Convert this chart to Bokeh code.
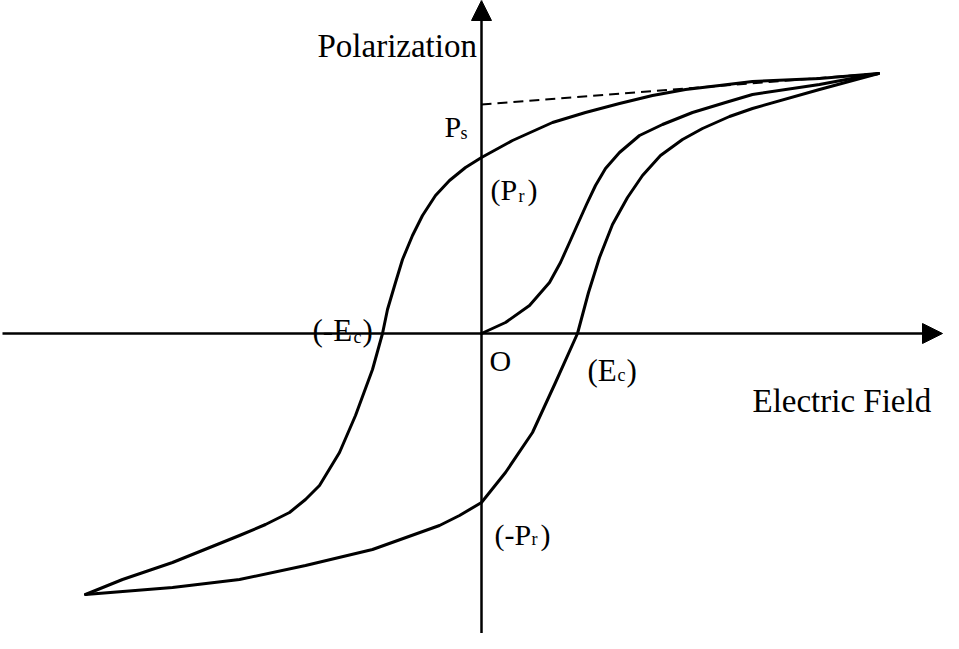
from bokeh.plotting import figure
from bokeh.models import Range1d, Arrow, NormalHead, Label
from bokeh.embed import file_html
from bokeh.resources import INLINE

# Upper (descending) branch: from +saturation tip through Pr and -Ec to -tip
upper_E = [3.97, 3.38, 2.71, 2.38, 2.04, 1.71, 1.38, 1.04, 0.71, 0.31, 0.00, -0.16, -0.32,
           -0.46, -0.59, -0.69, -0.79, -0.86, -0.94, -0.99, -1.09, -1.26, -1.42, -1.62,
           -1.76, -1.92, -2.16, -2.42, -3.09, -3.59, -3.96]
upper_P = [2.60, 2.55, 2.52, 2.48, 2.44, 2.38, 2.30, 2.21, 2.11, 1.93, 1.76, 1.66, 1.53,
           1.38, 1.18, 0.98, 0.74, 0.51, 0.24, 0.00, -0.36, -0.82, -1.19, -1.52,
           -1.66, -1.79, -1.91, -2.02, -2.29, -2.46, -2.61]

# Lower (ascending) branch: from -tip through -Pr and Ec to +tip
lower_E = [-3.96, -3.09, -2.42, -1.76, -1.09, -0.42, -0.22, 0.00, 0.24, 0.51, 0.74, 0.96,
           1.07, 1.18, 1.31, 1.46, 1.61, 1.79, 2.01, 2.21, 2.48, 2.71, 3.38, 3.97]
lower_P = [-2.61, -2.54, -2.46, -2.32, -2.16, -1.92, -1.82, -1.69, -1.39, -0.99, -0.49, 0.00,
           0.41, 0.76, 1.09, 1.36, 1.58, 1.78, 1.94, 2.05, 2.17, 2.25, 2.44, 2.60]

# Initial polarization curve from origin
init_E = [0.00, 0.24, 0.48, 0.68, 0.79, 0.88, 0.96, 1.05, 1.14, 1.24, 1.38, 1.58, 1.81,
          2.11, 2.44, 2.71, 3.38, 3.97]
init_P = [0.00, 0.11, 0.28, 0.51, 0.71, 0.91, 1.09, 1.29, 1.48, 1.65, 1.81, 1.98, 2.09,
          2.21, 2.31, 2.39, 2.49, 2.60]

# Saturation extrapolation (dashed)
sat_E = [0.00, 3.97]
sat_P = [2.29, 2.60]

FONT = "Liberation Serif"

p = figure(width=943, height=633, output_backend="svg", toolbar_location=None,
           x_range=Range1d(-4.81, 4.62), y_range=Range1d(-3.00, 3.33),
           min_border=0, outline_line_color=None, background_fill_color="white",
           border_fill_color="white")
p.xaxis.visible = False
p.yaxis.visible = False
p.grid.visible = False

# axes with arrowheads
p.add_layout(Arrow(end=NormalHead(size=20, fill_color="black", line_color="black", line_width=1),
                   x_start=-4.79, y_start=0, x_end=4.61, y_end=0,
                   line_color="black", line_width=2.5))
p.add_layout(Arrow(end=NormalHead(size=20, fill_color="black", line_color="black", line_width=1),
                   x_start=0, y_start=-3.2, x_end=0, y_end=3.33,
                   line_color="black", line_width=2.5))

# curves
for xs, ys in ((upper_E, upper_P), (lower_E, lower_P), (init_E, init_P)):
    p.line(xs, ys, line_color="black", line_width=3, line_join="round", line_cap="round")
p.line(sat_E, sat_P, line_color="black", line_width=2, line_dash="10 6")

def label(x, y, t, size):
    p.add_layout(Label(x=x, y=y, text=t, text_font=FONT, text_font_size=f"{size}px",
                       text_color="black", text_baseline="alphabetic", text_align="left"))

label(-1.64, 2.88, "Polarization", 33)
label(2.71, -0.67, "Electric Field", 33)

label(-0.37, 2.07, "P", 30)
label(-0.21, 2.01, "s", 18)

label(0.09, 1.44, "(P", 30)
label(0.37, 1.38, "r", 18)
label(0.46, 1.44, ")", 30)

label(-1.69, 0.03, "(-E", 31)
label(-1.28, -0.03, "c", 18)
label(-1.19, 0.03, ")", 31)

label(0.08, -0.27, "O", 30)

label(1.06, -0.37, "(E", 31)
label(1.36, -0.41, "c", 18)
label(1.45, -0.37, ")", 31)

label(0.13, -2.01, "(-P", 30)
label(0.50, -2.05, "r", 18)
label(0.59, -2.01, ")", 30)

open("out.html", "w").write(file_html(p, INLINE))
